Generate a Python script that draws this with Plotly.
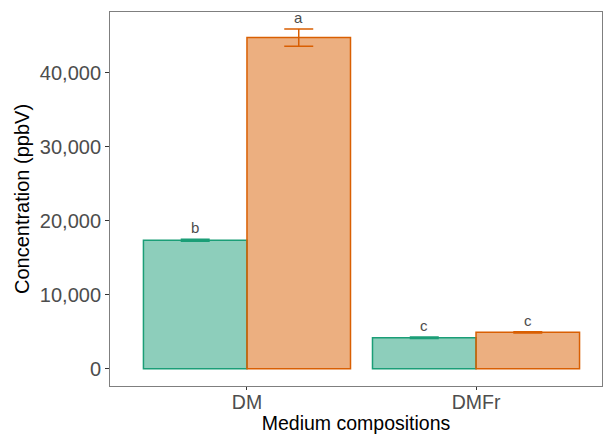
import plotly.graph_objects as go

categories = ["DM", "DMFr"]
series_names = ["Group 1", "Group 2"]
means_g1 = [17350, 4180]
sd_g1 = [140, 100]
means_g2 = [44720, 4900]
sd_g2 = [1170, 90]
letters_g1 = ["b", "c"]
letters_g2 = ["a", "c"]
y_ticks = [0, 10000, 20000, 30000, 40000]
y_tick_labels = ["0", "10,000", "20,000", "30,000", "40,000"]

fill_colors = ["rgba(27,158,119,0.5)", "rgba(217,95,2,0.5)"]
line_colors = ["#1B9E77", "#D95F02"]

fig = go.Figure()
for name, m, s, fc, lc in zip(series_names, [means_g1, means_g2], [sd_g1, sd_g2], fill_colors, line_colors):
    fig.add_trace(go.Bar(
        x=categories, y=m, name=name,
        marker=dict(color=fc, line=dict(color=lc, width=1.5)),
        error_y=dict(type="data", array=s, visible=True, color=lc, thickness=1.5, width=14.5),
    ))

offsets = [-0.225, 0.225]
for off, m, s, labs in zip(offsets, [means_g1, means_g2], [sd_g1, sd_g2], [letters_g1, letters_g2]):
    for i, (mv, sv, lab) in enumerate(zip(m, s, labs)):
        fig.add_annotation(
            x=i + off, y=mv + sv, xref="x", yref="y", text=lab, showarrow=False,
            yanchor="bottom", yshift=1,
            font=dict(family="Liberation Sans, Arial", size=15, color="#4D4D4D"),
        )

fig.update_layout(
    width=605, height=434,
    margin=dict(l=110, r=3, t=12, b=48),
    barmode="group", bargap=0.096, bargroupgap=0,
    plot_bgcolor="white", paper_bgcolor="white",
    showlegend=False,
    font=dict(family="Liberation Sans, Arial", color="#4D4D4D"),
)
fig.update_xaxes(
    range=[-0.598, 1.55], automargin=False,
    showline=True, mirror=True, linecolor="#7F7F7F", linewidth=1,
    ticks="outside", ticklen=3, tickcolor="#333333",
    ticklabelstandoff=-4,
    tickfont=dict(size=19.5, color="#4D4D4D"),
    title=dict(text="Medium compositions", font=dict(size=19.5, color="black"), standoff=7),
    showgrid=False, zeroline=False,
)
fig.update_yaxes(
    range=[-2346, 48173], automargin=False,
    tickvals=y_ticks, ticktext=y_tick_labels,
    showline=True, mirror=True, linecolor="#7F7F7F", linewidth=1,
    ticks="outside", ticklen=4, tickcolor="#333333",
    tickfont=dict(size=20, color="#4D4D4D"),
    title=dict(text="Concentration (ppbV)", font=dict(size=20, color="black"), standoff=4),
    showgrid=False, zeroline=False,
)

fig.write_html("out.html")
